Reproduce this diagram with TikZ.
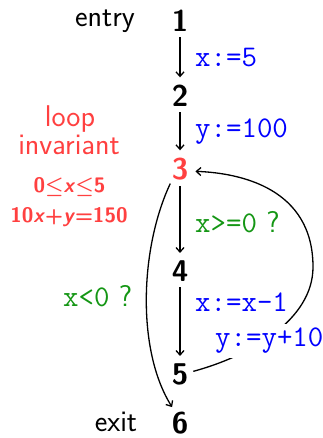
\documentclass[tikz,border=0pt]{standalone}
\usepackage{fontspec}
\usetikzlibrary{arrows.meta}
\definecolor{inv}{RGB}{255,64,64}
\definecolor{cond}{RGB}{20,150,20}
\definecolor{assign}{RGB}{0,0,255}
\tikzset{
  num/.style={font=\fontsize{30}{36}\selectfont\sffamily\bfseries, inner sep=0pt, anchor=base},
  word/.style={font=\fontsize{30}{36}\selectfont\sffamily, inner sep=0pt},
  code/.style={font=\fontsize{30}{36}\selectfont\ttfamily, inner sep=0pt, anchor=base west},
  mathlbl/.style={font=\fontsize{21}{25}\selectfont\sffamily\bfseries\boldmath, inner sep=0pt, anchor=base, text=inv},
  arr/.style={-{Straight Barb[length=4.5pt,width=8pt]}, line width=1.3pt, shorten <=5pt, shorten >=8pt},
  link/.style={-{Straight Barb[length=4.5pt,width=8pt]}, line width=1.3pt}
}
\begin{document}
\begin{tikzpicture}[x=1pt,y=1pt]
\useasboundingbox (0,0) rectangle (323,438);
% program points
\node[num] (n1) at (180,406) {1};
\node[num] (n2) at (180,331) {2};
\node[num, text=inv] (n3) at (180,258) {3};
\node[num] (n4) at (180,156) {4};
\node[num] (n5) at (180,53) {5};
\node[num] (n6) at (180,5) {6};
% side texts
\node[word, anchor=base] (entry) at (105,411) {entry};
\node[word, anchor=base] (exit) at (116,6) {exit};
\node[word, anchor=base, text=inv] (loop) at (70,311) {loop};
\node[word, anchor=base, text=inv] (invariant) at (69,283) {invariant};
\node[mathlbl] (inv1) at (69.5,245) {0$\le$\textit{x}$\le$5};
\node[mathlbl] (inv2) at (69,215) {10\textit{x}+\textit{y}=150};
% straight edges
\draw[arr] (n1) -- (n2);
\draw[arr] (n2) -- (n3);
\draw[arr] (n3) -- (n4);
\draw[arr] (n4) -- (n5);
% exit edge
\draw[link, shorten <=3pt, shorten >=5pt] (n3.south west) .. controls (140,190) and (136.3,88) .. (n6.115);
% back edge
\coordinate (m) at (313,171);
\draw[link, shorten <=5pt, shorten >=7pt] (n5.15) .. controls (250,82) and (313,118) .. (m)
  .. controls (313,250) and (240,265) .. (n3.-10);
% edge labels
\node[code, text=assign] (a1) at (195,371) {x:=5};
\node[code, text=assign] (a2) at (195,300) {y:=100};
\node[code, text=cond] (c1) at (195,205) {x>=0{\sffamily\ ?}};
\node[code, text=assign] (a3) at (195,126) {x:=x-1};
\node[code, text=assign, fill=white, inner sep=4pt] (a4) at (211,91) {y:=y+10};
\node[code, text=cond] (c2) at (63,131) {x<0{\sffamily\ ?}};
\end{tikzpicture}
\end{document}
